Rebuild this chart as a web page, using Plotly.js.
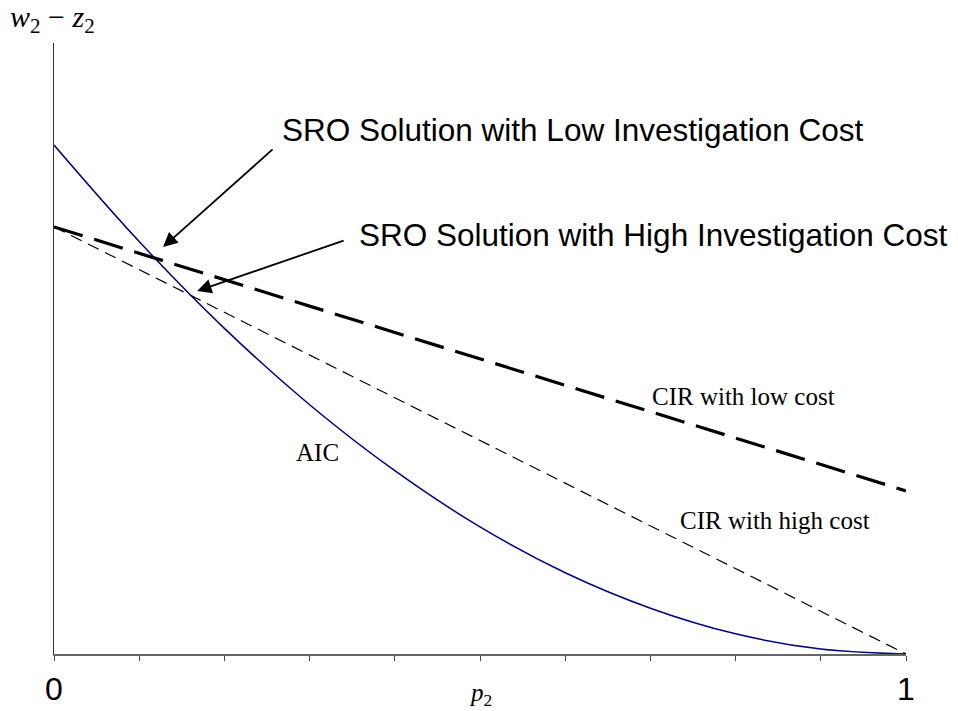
<!DOCTYPE html>
<html>
<head>
<meta charset="utf-8">
<script src="https://cdn.plot.ly/plotly-3.0.1.min.js"></script>
<style>html,body{margin:0;padding:0;background:#fff;}#chart{width:958px;height:711px;}</style>
</head>
<body>
<div id="chart"></div>
<script>
// Data
var p2 = [0, 0.1, 0.2, 0.3, 0.4, 0.5, 0.6, 0.7, 0.8, 0.9, 1];
var aic = [0.833, 0.675, 0.533, 0.408, 0.300, 0.208, 0.133, 0.075, 0.033, 0.008, 0];
var cirX = [0, 1];
var cirLow = [0.699, 0.267];
var cirHigh = [0.699, 0];
var xTickVals = [0, 0.1, 0.2, 0.3, 0.4, 0.5, 0.6, 0.7, 0.8, 0.9, 1];
var xTickText = ['0', '', '', '', '', '', '', '', '', '', '1'];
var sroLowPoint = [0.128, 0.666];
var sroHighPoint = [0.168, 0.594];

var serif = '"Liberation Serif", "Times New Roman", serif';
var sans = '"Liberation Sans", Arial, sans-serif';

var traces = [
  {x: p2, y: aic, mode: 'lines', line: {color: '#000080', width: 1.5, shape: 'spline'}, name: 'AIC', hoverinfo: 'skip'},
  {x: cirX, y: cirHigh, mode: 'lines', line: {color: '#000', width: 1.2, dash: '12px,7px'}, name: 'CIR high', hoverinfo: 'skip'},
  {x: cirX, y: cirLow, mode: 'lines', line: {color: '#000', width: 3.2, dash: '30px,12px'}, name: 'CIR low', hoverinfo: 'skip'}
];

var layout = {
  width: 958, height: 711,
  margin: {l: 54, r: 52, t: 43, b: 57},
  paper_bgcolor: '#fff', plot_bgcolor: '#fff',
  showlegend: false,
  xaxis: {
    range: [0, 1], showgrid: false, zeroline: false,
    showline: true, linecolor: '#666', linewidth: 1.5,
    ticks: 'outside', ticklen: 5, tickcolor: '#444', tickwidth: 1,
    tickvals: xTickVals, ticktext: xTickText,
    tickfont: {family: sans, size: 32, color: '#000'},
    ticklabelstandoff: 1
  },
  yaxis: {
    range: [0, 1], showgrid: false, zeroline: false,
    showline: true, linecolor: '#333', linewidth: 1,
    ticks: '', showticklabels: false
  },
  annotations: [
    {xref: 'paper', yref: 'paper', x: -0.0545, y: 1.04, xanchor: 'left', yanchor: 'middle', showarrow: false,
     text: '<i>w</i><sub>2</sub> − <i>z</i><sub>2</sub>', font: {family: serif, size: 30, color: '#000'}},
    {xref: 'paper', yref: 'paper', x: 0.5, y: -0.066, xanchor: 'center', yanchor: 'middle', showarrow: false,
     text: '<i>p</i><sub>2</sub>', font: {family: serif, size: 25, color: '#000'}},
    {xref: 'x', yref: 'y', x: 0.265, y: 0.858, xanchor: 'left', yanchor: 'middle', showarrow: false,
     text: 'SRO Solution with Low Investigation Cost', font: {family: sans, size: 31.5, color: '#000'}},
    {xref: 'x', yref: 'y', x: 0.356, y: 0.686, xanchor: 'left', yanchor: 'middle', showarrow: false,
     text: 'SRO Solution with High Investigation Cost', font: {family: sans, size: 31.5, color: '#000'}},
    {xref: 'x', yref: 'y', x: sroLowPoint[0], y: sroLowPoint[1], ax: 111, ay: -99, text: '', showarrow: true,
     arrowhead: 2, arrowsize: 1.6, arrowwidth: 1.8, arrowcolor: '#000', standoff: 0},
    {xref: 'x', yref: 'y', x: sroHighPoint[0], y: sroHighPoint[1], ax: 148, ay: -51, text: '', showarrow: true,
     arrowhead: 2, arrowsize: 1.6, arrowwidth: 1.8, arrowcolor: '#000', standoff: 0},
    {xref: 'x', yref: 'y', x: 0.809, y: 0.421, showarrow: false, text: 'CIR with low cost',
     font: {family: serif, size: 25, color: '#000'}},
    {xref: 'x', yref: 'y', x: 0.846, y: 0.219, showarrow: false, text: 'CIR with high cost',
     font: {family: serif, size: 25, color: '#000'}},
    {xref: 'x', yref: 'y', x: 0.309, y: 0.329, showarrow: false, text: 'AIC',
     font: {family: serif, size: 25, color: '#000'}}
  ]
};

Plotly.newPlot('chart', traces, layout, {displayModeBar: false, staticPlot: true});
</script>
</body>
</html>
